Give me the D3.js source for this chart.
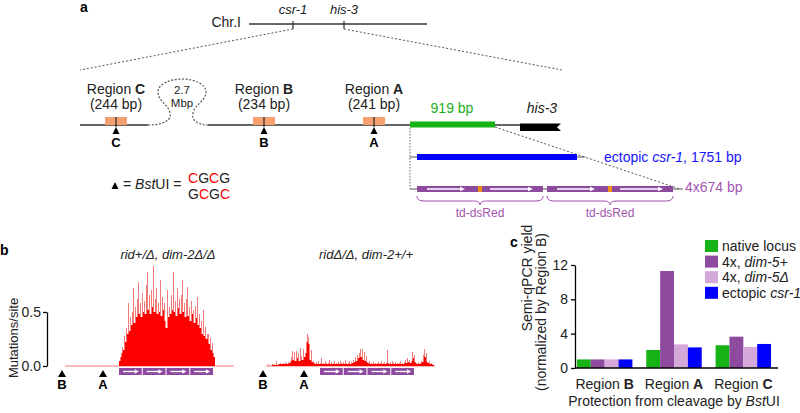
<!DOCTYPE html>
<html><head><meta charset="utf-8">
<script src="https://cdn.jsdelivr.net/npm/d3@7"></script>
<style>
body{margin:0;background:#fff;}
svg text{font-family:"Liberation Sans",Arial,Helvetica,sans-serif;}
</style></head><body>
<svg id="fig" width="800" height="413"></svg>
<script>
// ---------------- DATA ----------------
// Panel c: semi-qPCR yield (normalized by Region B)
const regionNames = ["B", "A", "C"];
const seriesNames = ["native locus", "4x, dim-5+", "4x, dim-5Δ", "ectopic csr-1"];
const yieldNative   = [1.0, 2.1, 2.65];
const yieldDim5Plus = [1.0, 11.3, 3.65];
const yieldDim5Del  = [1.0, 2.75, 2.45];
const yieldEctopic  = [1.0, 2.4, 2.8];
const yieldTicks = [0, 4, 8, 12];

// Panel b: mutations per site along the locus (position units, Region B site = 0)
const mutTicks = [0, 0.5];
const siteB = 0, siteA = 41;
const repeatStart = 57, repeatEnd = 152, repeatCount = 4;
const locusEnd = 172;
const mutStartLeft = 57;
const mutLeft = [
 0.05,0.08,0.12,0.18,0.15,0.28,0.22,0.35,0.30,0.58,
 0.32,0.45,0.38,0.50,0.72,0.40,0.55,0.45,0.62,0.78,
 0.48,0.58,0.45,0.68,0.50,0.60,0.48,0.75,0.87,0.52,
 0.66,0.48,0.70,0.55,0.93,0.50,0.62,0.72,0.48,0.58,
 0.50,0.80,0.46,0.64,0.52,0.58,0.42,0.35,0.70,0.45,
 0.55,0.48,0.66,0.52,0.87,0.50,0.60,0.46,0.72,0.54,
 0.62,0.48,0.66,0.80,0.50,0.58,0.45,0.62,0.73,0.46,
 0.55,0.42,0.60,0.48,0.52,0.40,0.56,0.44,0.64,0.38,
 0.48,0.35,0.42,0.30,0.52,0.28,0.36,0.25,0.30,0.30,
 0.20,0.26,0.15,0.21,0.12,0.08
];
const mutStartRight = 5;
const mutRight = [
 0.02,0.00,0.00,0.01,0.02,0.01,0.02,0.01,0.05,0.01,
 0.02,0.02,0.03,0.02,0.02,0.03,0.02,0.04,0.03,0.02,
 0.04,0.03,0.05,0.08,0.14,0.06,0.13,0.05,0.14,0.07,
 0.12,0.05,0.17,0.09,0.06,0.16,0.08,0.12,0.22,0.30,
 0.27,0.20,0.06,0.15,0.04,0.05,0.03,0.02,0.04,0.02,
 0.05,0.02,0.03,0.07,0.02,0.03,0.02,0.05,0.03,0.02,
 0.03,0.06,0.02,0.04,0.02,0.03,0.05,0.02,0.03,0.02,
 0.04,0.02,0.05,0.03,0.02,0.04,0.02,0.06,0.03,0.02,
 0.03,0.05,0.02,0.04,0.03,0.06,0.04,0.08,0.05,0.10,
 0.07,0.12,0.16,0.08,0.16,0.06,0.13,0.05,0.09,0.04,
 0.03,0.05,0.02,0.03,0.02,0.04,0.02,0.03,0.02,0.03,
 0.04,0.02,0.03,0.05,0.02,0.03,0.04,0.02,0.03,0.15,
 0.03,0.02,0.04,0.02,0.05,0.03,0.02,0.04,0.02,0.03,
 0.02,0.03,0.05,0.02,0.03,0.02,0.04,0.06,0.03,0.07,
 0.04,0.06,0.03,0.05,0.13,0.07,0.10,0.04,0.03,0.02,
 0.04,0.02,0.03,0.05,0.04,0.10,0.16,0.08,0.12,0.04,
 0.03,0.05,0.02,0.03,0.02,0.01
];

// ---------------- STYLE ----------------
const C = {
  line: "#333", dash: "#555", orange: "#f5a172", orangeMark: "#f0901a",
  green: "#16b316", greenText: "#20b020", blue: "#0000ff", blueText: "#1414ff",
  purple: "#8e4a9f", purpleText: "#a255b0", lightPurple: "#d4a8d9",
  red: "#ff0000", redLight: "#f47a7a"
};
const seriesColors = [C.green, C.purple, C.lightPurple, C.blue];

const svg = d3.select("#fig");

function rich(g, x, y, parts, opts = {}) {
  const t = g.append("text").attr("x", x).attr("y", y)
    .attr("font-size", opts.size || 14)
    .attr("fill", opts.fill || "#222")
    .attr("text-anchor", opts.anchor || "start");
  if (opts.transform) t.attr("transform", opts.transform);
  parts.forEach(p => {
    const s = t.append("tspan").text(p[0]);
    if (p[1] && p[1].includes("i")) s.attr("font-style", "italic");
    if (p[1] && p[1].includes("b")) s.attr("font-weight", "bold");
    if (p[2]) s.attr("fill", p[2]);
  });
  return t;
}
function tri(g, x, y, w, h, fill) {
  g.append("path").attr("d", `M${x},${y} L${x - w / 2},${y + h} L${x + w / 2},${y + h} Z`).attr("fill", fill || "#000");
}

// ================= PANEL A =================
const A = svg.append("g");
rich(A, 80, 12, [["a", "b"]], {size: 14, fill: "#000"});
rich(A, 241, 27, [["Chr.I"]], {anchor: "end"});
A.append("line").attr("x1", 249).attr("x2", 427).attr("y1", 24).attr("y2", 24).attr("stroke", C.line).attr("stroke-width", 1.3);
[[293, "csr-1"], [344, "his-3"]].forEach(([x, lab]) => {
  A.append("line").attr("x1", x).attr("x2", x).attr("y1", 21).attr("y2", 29).attr("stroke", C.line).attr("stroke-width", 1.2);
  rich(A, x, 14, [[lab, "i"]], {anchor: "middle", size: 13});
});
// zoom lines
A.append("line").attr("x1", 293).attr("y1", 29).attr("x2", 80).attr("y2", 70).attr("stroke", C.dash).attr("stroke-dasharray", "2,2");
A.append("line").attr("x1", 344).attr("y1", 29).attr("x2", 562).attr("y2", 70).attr("stroke", C.dash).attr("stroke-dasharray", "2,2");

// locus line
const LY = 125;
A.append("line").attr("x1", 80).attr("x2", 148).attr("y1", LY).attr("y2", LY).attr("stroke", C.line).attr("stroke-width", 1.5);
A.append("line").attr("x1", 208).attr("x2", 540).attr("y1", LY).attr("y2", LY).attr("stroke", C.line).attr("stroke-width", 1.5);
A.append("path").attr("d", "M148,125 C162,125 172,121 170,113 C168,104 158,101 158,92 C158,84 170,79 182,79 C194,79 206,84 206,92 C206,101 195,104 193,113 C191,121 199,125 208,125")
  .attr("fill", "none").attr("stroke", C.dash).attr("stroke-width", 1.2).attr("stroke-dasharray", "2,1.6");
rich(A, 182, 94, [["2.7"]], {anchor: "middle", size: 11.5});
rich(A, 182, 107, [["Mbp"]], {anchor: "middle", size: 11.5});

const regionSites = [["C", 116, "244"], ["B", 264, "234"], ["A", 374, "241"]];
regionSites.forEach(([L, x, bp]) => {
  A.append("rect").attr("x", x - 11).attr("y", LY - 8).attr("width", 22).attr("height", 8).attr("fill", C.orange);
  A.append("line").attr("x1", x).attr("x2", x).attr("y1", LY - 8).attr("y2", LY + 2).attr("stroke", "#222").attr("stroke-width", 1.2);
  rich(A, x, 94, [["Region "], [L, "b"]], {anchor: "middle"});
  rich(A, x, 109, [[`(${bp} bp)`]], {anchor: "middle"});
  tri(A, x, LY + 2, 7, 7);
  rich(A, x, 147, [[L, "b"]], {anchor: "middle", size: 13, fill: "#000"});
});

// native csr-1 region and his-3
A.append("rect").attr("x", 410).attr("y", 121.5).attr("width", 85).attr("height", 6).attr("fill", C.green);
rich(A, 452, 113, [["919 bp"]], {anchor: "middle", fill: C.greenText});
A.append("path").attr("d", "M520,123.5 L561,123.5 L557,127.3 L561,131 L520,131 Z").attr("fill", "#000");
rich(A, 542, 113, [["his-3", "i"]], {anchor: "middle"});

// dotted guides
A.append("line").attr("x1", 410).attr("x2", 410).attr("y1", 128).attr("y2", 189).attr("stroke", "#666").attr("stroke-dasharray", "1.5,1.5");
A.append("line").attr("x1", 495).attr("y1", 127).attr("x2", 680).attr("y2", 189).attr("stroke", "#555").attr("stroke-dasharray", "2,2");

// ectopic csr-1
A.append("line").attr("x1", 410).attr("x2", 585).attr("y1", 157).attr("y2", 157).attr("stroke", "#555").attr("stroke-width", 1.2);
A.append("rect").attr("x", 417).attr("y", 154).attr("width", 160).attr("height", 6).attr("fill", C.blue);
rich(A, 604, 162, [["ectopic "], ["csr-1", "i"], [", 1751 bp"]], {fill: C.blueText});

// 4x td-dsRed
A.append("line").attr("x1", 410).attr("x2", 683).attr("y1", 189).attr("y2", 189).attr("stroke", "#555").attr("stroke-width", 1.2);
const tdStarts = [417, 547];
tdStarts.forEach(s => {
  A.append("rect").attr("x", s).attr("y", 186).attr("width", 126).attr("height", 6).attr("fill", C.purple);
  A.append("rect").attr("x", s + 61).attr("y", 186).attr("width", 4).attr("height", 6).attr("fill", C.orangeMark);
  [[s + 10, s + 48], [s + 73, s + 116]].forEach(([a, b]) => {
    A.append("line").attr("x1", a).attr("x2", b - 3).attr("y1", 189).attr("y2", 189).attr("stroke", "#fff").attr("stroke-width", 1.3);
    A.append("path").attr("d", `M${b},189 L${b - 5},186.8 L${b - 5},191.2 Z`).attr("fill", "#fff");
  });
  const m = s + 63, e = s + 126;
  A.append("path").attr("d", `M${s},196 Q${s},201 ${s + 7},201 L${m - 6},201 Q${m},201 ${m},205 Q${m},201 ${m + 6},201 L${e - 7},201 Q${e},201 ${e},196`)
    .attr("fill", "none").attr("stroke", C.purpleText).attr("stroke-width", 1);
  rich(A, m, 217, [["td-dsRed"]], {anchor: "middle", size: 12, fill: C.purpleText});
});
rich(A, 685, 192, [["4x674 bp"]], {fill: C.purpleText});

// BstUI legend
tri(A, 115, 182, 7, 7);
rich(A, 123, 189, [["= "], ["Bst", "i"], ["UI ="]]);
rich(A, 188, 183, [["C", "", "#ff0000"], ["G"], ["C", "", "#ff0000"], ["G"]]);
rich(A, 188, 199, [["G"], ["C", "", "#ff0000"], ["G"], ["C", "", "#ff0000"]]);

// ================= PANEL B =================
const B = svg.append("g");
rich(B, 0, 255, [["b", "b"]], {fill: "#000"});
const yM = d3.scaleLinear().domain([0, 1]).range([366, 258]);
const yAxisScale = yM.copy().domain(d3.extent(mutTicks)).range(d3.extent(mutTicks).map(yM));
const yAx = B.append("g").attr("transform", "translate(47,0)")
  .call(d3.axisLeft(yAxisScale).tickValues(mutTicks).tickFormat(d3.format(".1f")).tickSize(4).tickSizeOuter(0).tickPadding(2));
yAx.selectAll("path,line").attr("stroke", "#000").attr("stroke-width", 1.3);
yAx.selectAll("text").attr("font-size", 14).attr("fill", "#222").attr("font-family", '"Liberation Sans",Arial,sans-serif');
rich(B, 0, 0, [["Mutations/site"]], {anchor: "middle", size: 13, transform: "translate(18,338) rotate(-90)"});

const mutPanels = [
  {x0: 62, data: mutLeft, start: mutStartLeft, title: [["rid+/Δ, dim-2Δ/Δ", "i"]], tx: 168},
  {x0: 263, data: mutRight, start: mutStartRight, title: [["ridΔ/Δ, dim-2+/+", "i"]], tx: 366}
];
mutPanels.forEach(p => {
  const xs = d3.scaleLinear().domain([0, locusEnd]).range([p.x0, p.x0 + locusEnd]);
  rich(B, p.tx, 259, p.title, {anchor: "middle", size: 13});
  B.append("line").attr("x1", xs(3)).attr("x2", xs(locusEnd)).attr("y1", yM(0)).attr("y2", yM(0)).attr("stroke", C.redLight).attr("stroke-width", 1);
  const pts = p.data.map((v, i) => ({pos: p.start + i, v, base: Math.min(v, p.data[i - 1] ?? v, p.data[i + 1] ?? v)}));
  const g = B.append("g").attr("shape-rendering", "crispEdges");
  g.selectAll("rect.spk").data(pts).join("rect").attr("class", "spk")
    .attr("x", d => xs(d.pos) - 0.5).attr("width", 1)
    .attr("y", d => yM(d.v)).attr("height", d => yM(0) - yM(d.v)).attr("fill", C.redLight);
  g.selectAll("rect.base").data(pts).join("rect").attr("class", "base")
    .attr("x", d => xs(d.pos) - 0.5).attr("width", 1)
    .attr("y", d => yM(d.base)).attr("height", d => yM(0) - yM(d.base)).attr("fill", C.red);
  // repeats
  const unit = (repeatEnd - repeatStart) / repeatCount;
  d3.range(repeatCount).forEach(k => {
    const a = xs(repeatStart + k * unit), b = xs(repeatStart + (k + 1) * unit) - 1;
    B.append("rect").attr("x", a).attr("y", 368).attr("width", b - a).attr("height", 7).attr("fill", C.purple);
    B.append("line").attr("x1", a + 4).attr("x2", b - 6).attr("y1", 371.5).attr("y2", 371.5).attr("stroke", "#fff").attr("stroke-width", 1.3);
    B.append("path").attr("d", `M${b - 3},371.5 L${b - 7},369.3 L${b - 7},373.7 Z`).attr("fill", "#fff");
  });
  [["B", siteB], ["A", siteA]].forEach(([L, s]) => {
    tri(B, xs(s), 370, 8, 7);
    rich(B, xs(s), 389, [[L, "b"]], {anchor: "middle", size: 13, fill: "#000"});
  });
});

// ================= PANEL C =================
const P = svg.append("g");
rich(P, 510, 247, [["c", "b"]], {fill: "#000"});
const x0 = d3.scaleBand().domain(regionNames).range([570, 778]).paddingInner(0.2).paddingOuter(0.1);
const x1 = d3.scaleBand().domain(seriesNames).range([0, x0.bandwidth()]);
const yC = d3.scaleLinear().domain([0, 12]).range([368, 265]);
const seriesVals = [yieldNative, yieldDim5Plus, yieldDim5Del, yieldEctopic];
regionNames.forEach((r, ri) => {
  P.selectAll(null).data(seriesNames).join("rect")
    .attr("x", s => x0(r) + x1(s)).attr("width", x1.bandwidth())
    .attr("y", (s, si) => yC(seriesVals[si][ri]))
    .attr("height", (s, si) => yC(0) - yC(seriesVals[si][ri]))
    .attr("fill", (s, si) => seriesColors[si]);
  rich(P, x0(r) + x0.bandwidth() / 2, 389, [["Region "], [r, "b"]], {anchor: "middle"});
});
const yCx = P.append("g").attr("transform", "translate(575,0)")
  .call(d3.axisLeft(yC).tickValues(yieldTicks).tickSize(4).tickSizeOuter(0).tickPadding(3));
yCx.selectAll("path,line").attr("stroke", "#000").attr("stroke-width", 1.3);
yCx.selectAll("text").attr("font-size", 14).attr("fill", "#222").attr("font-family", '"Liberation Sans",Arial,sans-serif');
P.append("line").attr("x1", 575).attr("x2", 778).attr("y1", yC(0)).attr("y2", yC(0)).attr("stroke", "#000").attr("stroke-width", 1.3);
rich(P, 674, 406, [["Protection from cleavage by "], ["Bst", "i"], ["UI"]], {anchor: "middle"});
rich(P, 0, 0, [["Semi-qPCR yield"]], {anchor: "middle", transform: "translate(532,278) rotate(-90)"});
rich(P, 0, 0, [["(normalized by Region B)"]], {anchor: "middle", transform: "translate(546,312) rotate(-90)"});

// legend
const legendLabels = [[["native locus"]], [["4x, "], ["dim-5+", "i"]], [["4x, "], ["dim-5Δ", "i"]], [["ectopic "], ["csr-1", "i"]]];
seriesNames.forEach((s, i) => {
  const yy = 240 + i * 15.6;
  P.append("rect").attr("x", 705).attr("y", yy).attr("width", 13).attr("height", 12).attr("fill", seriesColors[i]);
  rich(P, 722, yy + 11, legendLabels[i]);
});
</script>
</body></html>
